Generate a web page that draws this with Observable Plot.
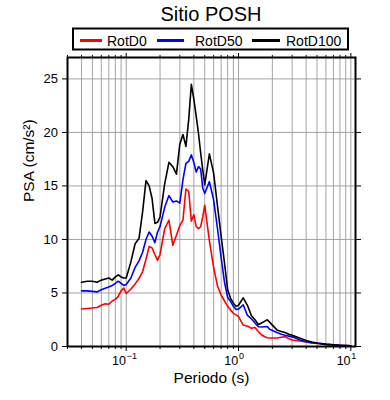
<!DOCTYPE html>
<html><head><meta charset="utf-8">
<script src="https://cdn.jsdelivr.net/npm/d3@7"></script>
<script src="https://cdn.jsdelivr.net/npm/@observablehq/plot@0.6"></script>
<style>body{margin:0;background:#fff} svg{display:block}</style>
</head><body><div id="chart"></div>
<script>
const titleText = "Sitio POSH";
const xLabel = "Periodo (s)";
const yLabel = "PSA (cm/s²)";
const seriesNames = ["RotD0", "RotD50", "RotD100"];
const seriesColors = ["#ff0000", "#0000ff", "#000000"];
const yTicks = [0, 5, 10, 15, 20, 25];
const xMajor = [0.1, 1, 10];
const xExponents = ["−1", "0", "1"];

const periods = [0.04,0.045,0.05,0.055,0.06,0.065,0.07,0.075,0.08,0.085,0.09,0.095,
  0.1,0.11,0.12,0.13,0.14,0.15,0.16,0.17,0.18,0.19,0.2,
  0.22,0.24,0.26,0.28,0.3,0.32,0.34,0.36,0.38,0.4,0.42,0.44,0.46,0.48,0.5,
  0.55,0.6,0.65,0.7,0.75,0.8,0.85,0.9,0.95,1.0,
  1.1,1.2,1.3,1.4,1.5,1.6,1.7,1.8,1.9,2.0,
  2.2,2.4,2.6,2.8,3.0,3.5,4.0,4.5,5,6,7,8,9,10];

const rotD0 = [3.5,3.55,3.6,3.65,3.85,4.0,3.95,4.25,4.4,4.7,5.2,5.45,
  4.95,5.35,5.85,6.35,7.0,8.15,9.35,9.2,8.6,8.05,8.6,
  11.0,11.8,9.45,10.4,11.3,11.8,14.7,14.5,11.7,12.3,11.2,11.0,11.2,12.1,13.2,
  9.9,7.4,5.65,4.8,4.25,3.75,3.4,3.1,2.95,2.8,
  2.0,1.9,1.7,1.78,1.4,1.1,0.93,0.82,0.8,0.8,
  0.8,0.87,0.92,0.72,0.6,0.52,0.42,0.33,0.28,0.18,0.13,0.1,0.08,0.06];

const rotD50 = [5.2,5.2,5.15,5.1,5.3,5.45,5.55,5.7,5.9,6.1,5.9,5.7,
  5.8,6.4,7.4,8.0,8.8,10.0,10.7,10.3,9.7,10.7,11.2,
  13.0,14.1,13.5,13.6,13.4,15.6,17.1,17.3,17.9,17.2,16.3,16.8,16.6,14.8,14.3,
  15.4,13.7,11.0,8.3,6.0,4.6,4.2,3.75,3.45,3.5,
  3.9,2.9,2.6,2.2,1.85,1.82,1.85,1.87,1.6,1.5,
  1.3,1.15,1.05,0.97,0.9,0.62,0.45,0.36,0.3,0.2,0.15,0.11,0.08,0.06];

const rotD100 = [6.0,6.1,6.1,6.0,6.2,6.3,6.4,6.2,6.5,6.7,6.5,6.4,
  6.4,7.9,9.6,10.1,12.6,15.5,15.0,13.8,11.5,11.6,12.1,
  15.2,17.2,16.8,16.1,18.9,19.8,18.7,21.2,24.5,23.1,21.5,19.9,18.1,16.5,15.1,
  18.0,16.2,13.1,10.3,7.8,5.3,4.5,4.05,3.75,3.85,
  4.55,3.85,2.9,2.5,2.05,2.2,2.35,2.5,2.25,2.0,
  1.55,1.4,1.3,1.15,1.05,0.8,0.57,0.42,0.32,0.22,0.17,0.12,0.09,0.07];

const seriesValues = [rotD0, rotD50, rotD100];
const data = seriesNames.flatMap((name, i) =>
  periods.map((p, j) => ({period: p, psa: seriesValues[i][j], series: name})));

// log grid / minor tick positions
const xMinor = [];
for (const dec of [0.01, 0.1, 1]) for (let k = 2; k <= 9; k++) {
  const v = +(k * dec).toPrecision(3);
  if (v >= 0.03 && v <= 11) xMinor.push(v);
}
const xGrid = [...xMinor, ...xMajor];

const font = "'Liberation Sans', Arial, Helvetica, sans-serif";

const plot = Plot.plot({
  width: 390, height: 400,
  marginLeft: 67, marginRight: 35, marginTop: 57, marginBottom: 54,
  style: {fontFamily: font, background: "white", color: "black"},
  x: {type: "log", domain: [0.03, 11], axis: null},
  y: {domain: [0, 27], axis: null},
  color: {domain: seriesNames, range: seriesColors},
  marks: [
    Plot.ruleX(xGrid, {stroke: "#999", strokeWidth: 0.9}),
    Plot.ruleY(yTicks.slice(1), {stroke: "#999", strokeWidth: 0.9}),
    Plot.line(data, {x: "period", y: "psa", stroke: "series", z: "series", strokeWidth: 1.6}),
    Plot.axisY({ticks: yTicks, anchor: "left", tickSize: 5, tickPadding: 4.5, fontSize: 13, label: null}),
    Plot.axisY({ticks: yTicks, anchor: "right", tickSize: 5, tickFormat: () => "", label: null}),
    Plot.axisX({ticks: xMinor, anchor: "bottom", tickSize: 3, tickFormat: () => "", label: null}),
    Plot.axisX({ticks: xMajor, anchor: "bottom", tickSize: 5, tickFormat: () => "", label: null}),
    Plot.axisX({ticks: xMinor, anchor: "top", tickSize: 3, tickFormat: () => "", label: null}),
    Plot.axisX({ticks: xMajor, anchor: "top", tickSize: 5, tickFormat: () => "", label: null}),
    Plot.text(xMajor, {x: d => d, text: () => "10", frameAnchor: "bottom", dy: 18, dx: -0.3, textAnchor: "end", fontSize: 12.5}),
    Plot.text(xMajor, {x: d => d, text: (d, i) => xExponents[i], frameAnchor: "bottom", dy: 12, dx: 0.5, textAnchor: "start", fontSize: 9}),
    Plot.text([xLabel], {text: d => d, frameAnchor: "bottom", dy: 36, fontSize: 15.5}),
    Plot.text([yLabel], {text: d => d, frameAnchor: "left", dx: -38, rotate: -90, fontSize: 15.5}),
    Plot.frame({stroke: "black", strokeWidth: 2})
  ]
});
document.getElementById("chart").append(plot);

const svg = d3.select(plot);
svg.append("text").attr("x", 211).attr("y", 21).attr("text-anchor", "middle")
  .style("font-size", "20px").style("font-family", font).attr("fill", "black").text(titleText);

const lg = svg.append("g").attr("text-anchor", "start");
lg.append("rect").attr("x", 73).attr("y", 28.5).attr("width", 275).attr("height", 21)
  .attr("fill", "white").attr("stroke", "black").attr("stroke-width", 2);
const legendLineX = [[80, 102], [157, 184], [252, 280]];
const legendTextX = [107, 195, 286];
seriesNames.forEach((name, i) => {
  lg.append("line").attr("x1", legendLineX[i][0]).attr("x2", legendLineX[i][1])
    .attr("y1", 40.5).attr("y2", 40.5).attr("stroke", seriesColors[i]).attr("stroke-width", 3);
  lg.append("text").attr("x", legendTextX[i]).attr("y", 45.5).attr("text-anchor", "start")
    .style("font-size", "14px").style("font-family", font).attr("fill", "black").text(name);
});
</script></body></html>
